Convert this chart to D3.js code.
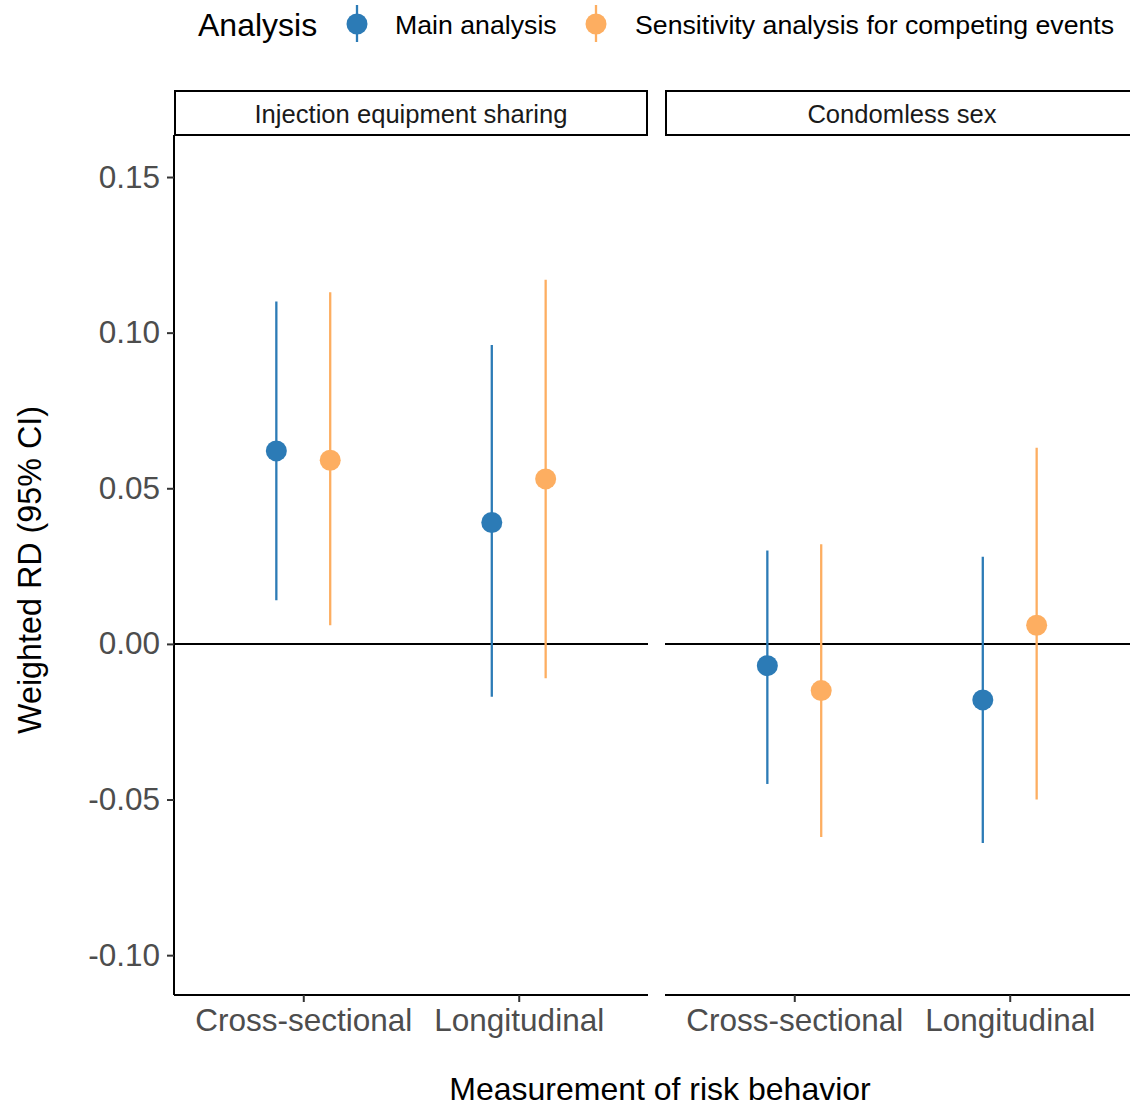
<!DOCTYPE html>
<html><head><meta charset="utf-8">
<script src="https://cdn.jsdelivr.net/npm/d3@7"></script>
<style>body{margin:0;background:#fff}text{font-family:"Liberation Sans",Arial,sans-serif}</style>
</head><body>
<svg id="c" width="1130" height="1107"></svg>
<script>
const facets = ["Injection equipment sharing", "Condomless sex"];
const measures = ["Cross-sectional", "Longitudinal"];
const analyses = ["Main analysis", "Sensitivity analysis for competing events"];
const colors = ["#2c7bb6", "#fdae61"];
// order: facet, measure, analysis
const estFacet = [0,0,0,0,1,1,1,1];
const estMeasure = [0,0,1,1,0,0,1,1];
const estAnalysis = [0,1,0,1,0,1,0,1];
const est =   [0.062, 0.059, 0.039, 0.053, -0.007, -0.015, -0.018, 0.006];
const lower = [0.014, 0.006, -0.017, -0.011, -0.045, -0.062, -0.064, -0.050];
const upper = [0.110, 0.113, 0.096, 0.117, 0.030, 0.032, 0.028, 0.063];
const yTicks = [-0.10, -0.05, 0.00, 0.05, 0.10, 0.15];

(function(){
const svg = d3.select("#c");
const root = svg.append("g");
const pTop = 135, pBottom = 995;
const panelX = [174, 665], panelW = 474;
const y = d3.scaleLinear().domain([-0.1128, 0.1635]).range([pBottom, pTop]);
const fmt = v => d3.format(".2f")(v).replace("\u2212", "-");

facets.forEach((f, fi) => {
  const x0 = panelX[fi];
  const x = d3.scalePoint().domain(measures).range([x0 + panelW*0.6/2.2, x0 + panelW*1.6/2.2]);
  const g = root.append("g");
  g.append("rect").attr("x", x0+1).attr("y", 91).attr("width", panelW-2).attr("height", 44)
    .attr("fill", "#fff").attr("stroke", "#000").attr("stroke-width", 2);
  g.append("text").attr("x", x0 + panelW/2).attr("y", 114).attr("dy", "0.35em")
    .attr("text-anchor", "middle").attr("font-size", 25.6).attr("fill", "#1a1a1a").text(f);
  g.append("line").attr("x1", x0).attr("x2", x0+panelW).attr("y1", y(0)).attr("y2", y(0))
    .attr("stroke", "#000").attr("stroke-width", 2);
  const xa = g.append("g").attr("transform", `translate(0,${pBottom})`)
    .call(d3.axisBottom(x).tickSize(7).tickPadding(7));
  xa.select(".domain").attr("d", `M${x0},0H${x0+panelW}`).attr("stroke-width", 2);
  xa.selectAll(".tick line").attr("stroke", "#333").attr("stroke-width", 2);
  xa.selectAll(".tick text").attr("font-size", 31.5).attr("fill", "#4d4d4d");
  if (fi === 0) {
    const ya = g.append("g").attr("transform", `translate(${x0},0)`)
      .call(d3.axisLeft(y).tickValues(yTicks).tickFormat(fmt).tickSize(7).tickPadding(7));
    ya.select(".domain").attr("d", `M0,${pTop}V${pBottom}`).attr("stroke-width", 2);
    ya.selectAll(".tick line").attr("stroke", "#333").attr("stroke-width", 2);
    ya.selectAll(".tick text").attr("font-size", 31.5).attr("fill", "#4d4d4d");
  }
  const dodge = panelW/2.2 * 0.125;
  est.forEach((v, i) => {
    if (estFacet[i] !== fi) return;
    const cx = x(measures[estMeasure[i]]) + (estAnalysis[i] === 0 ? -dodge : dodge);
    const col = colors[estAnalysis[i]];
    g.append("line").attr("x1", cx).attr("x2", cx).attr("y1", y(lower[i])).attr("y2", y(upper[i]))
      .attr("stroke", col).attr("stroke-width", 2.3);
    g.append("circle").attr("cx", cx).attr("cy", y(v)).attr("r", 10.5).attr("fill", col);
  });
});

root.append("text").attr("transform", `translate(30,${(pTop+pBottom)/2 + 5}) rotate(-90)`)
  .attr("dy", "0.35em").attr("text-anchor", "middle").attr("font-size", 32.3).attr("fill", "#000")
  .text("Weighted RD (95% CI)");
root.append("text").attr("x", 660).attr("y", 1089).attr("dy", "0.35em")
  .attr("text-anchor", "middle").attr("font-size", 32).attr("fill", "#000").text("Measurement of risk behavior");

const lg = root.append("g");
lg.append("text").attr("x", 198).attr("y", 25).attr("dy", "0.35em").attr("font-size", 32).text("Analysis");
const keyX = [357, 596], txtX = [395, 635];
analyses.forEach((a, i) => {
  lg.append("line").attr("x1", keyX[i]).attr("x2", keyX[i]).attr("y1", 5).attr("y2", 42)
    .attr("stroke", colors[i]).attr("stroke-width", 2.3);
  lg.append("circle").attr("cx", keyX[i]).attr("cy", 24).attr("r", 10.5).attr("fill", colors[i]);
  lg.append("text").attr("x", txtX[i]).attr("y", 25).attr("dy", "0.35em").attr("font-size", 26.7).text(a);
});
})();
</script>
</body></html>
